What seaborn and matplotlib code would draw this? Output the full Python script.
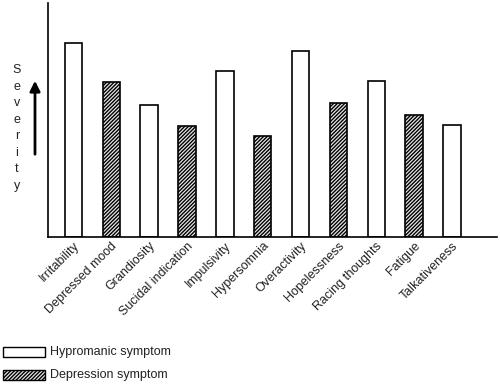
import matplotlib
matplotlib.use("Agg")
import matplotlib.pyplot as plt
import seaborn as sns
import pandas as pd
from matplotlib.patches import Rectangle

symptoms = ["Irritability", "Depressed mood", "Grandiosity", "Sucidal indication",
            "Impulsivity", "Hypersomnia", "Overactivity", "Hopelessness",
            "Racing thoughts", "Fatigue", "Talkativeness"]
severity = [194, 155, 132, 111, 166, 101, 186, 134, 156, 122, 112]
kind = ["Hypromanic symptom", "Depression symptom", "Hypromanic symptom", "Depression symptom",
        "Hypromanic symptom", "Depression symptom", "Hypromanic symptom", "Depression symptom",
        "Hypromanic symptom", "Depression symptom", "Hypromanic symptom"]
legend_labels = ["Hypromanic symptom", "Depression symptom"]

df = pd.DataFrame({"symptom": symptoms, "severity": severity, "kind": kind})

sns.set_theme(style="white")
plt.rcParams['font.family'] = ['Liberation Sans', 'DejaVu Sans']
plt.rcParams['hatch.linewidth'] = 1.0

HATCH = "/////////"

fig = plt.figure(figsize=(5, 3.86), dpi=100)
ax = fig.add_axes([0.096, 0.386, 0.898, 0.606])

sns.barplot(data=df, x="symptom", y="severity", color="white", width=0.46,
            edgecolor="black", linewidth=1.2, ax=ax)
for patch, k in zip(ax.patches, kind):
    patch.set_facecolor("white")
    if k == "Depression symptom":
        patch.set_hatch(HATCH)
        patch.set_facecolor("#e8e8e8")

ax.set_xlim(-0.67, 11.19)
ax.set_ylim(0, 234)
ax.set_xlabel("")
ax.set_ylabel("")
ax.set_yticks([])
ax.tick_params(axis="x", length=0, pad=2)
for sp in ["top", "right"]:
    ax.spines[sp].set_visible(False)
for sp in ["left", "bottom"]:
    ax.spines[sp].set_color("black")
    ax.spines[sp].set_linewidth(1.2)
ax.set_xticks(range(len(symptoms)))
ax.set_xticklabels(symptoms, rotation=45, ha="right", rotation_mode="anchor",
                   fontsize=9, color="#222222")

# Severity label with arrow
fig.text(0.034, 0.668, "S\ne\nv\ne\nr\ni\nt\ny", ha="center", va="center",
         fontsize=9, linespacing=1.5, color="#222222")
fig.add_artist(matplotlib.patches.FancyArrowPatch(
    (0.07, 1 - 157 / 386), (0.07, 1 - 78 / 386), transform=fig.transFigure,
    arrowstyle="-|>,head_length=3,head_width=1.5", mutation_scale=2,
    color="black", linewidth=2))

# Legend
for i, lab in enumerate(legend_labels):
    y0 = 1 - (357 + i * 23) / 386
    r = Rectangle((3 / 500, y0), 42 / 500, 10 / 386, transform=fig.transFigure,
                  facecolor="#e8e8e8" if i == 1 else "white", edgecolor="black",
                  linewidth=1.0, hatch=HATCH if i == 1 else None)
    fig.add_artist(r)
    fig.text(50 / 500, y0 + 5 / 386, lab, ha="left", va="center",
             fontsize=9, color="#222222")

fig.savefig("out.png", dpi=100)
